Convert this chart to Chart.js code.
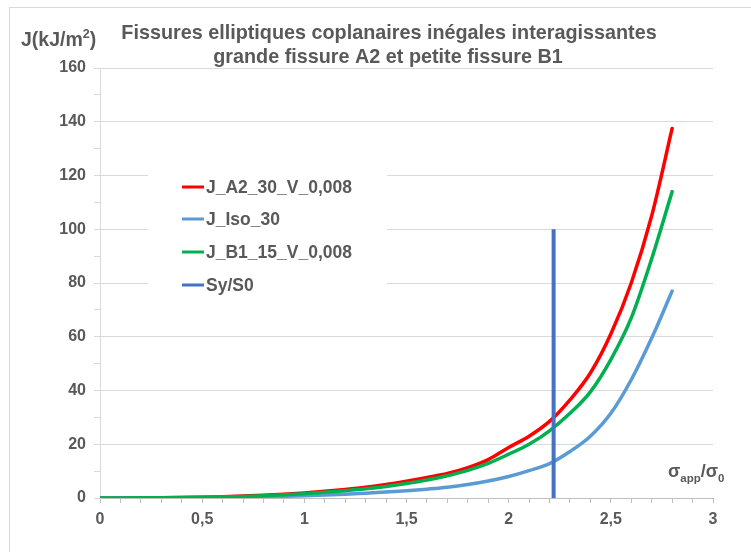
<!DOCTYPE html>
<html>
<head>
<meta charset="utf-8">
<script src="https://cdn.jsdelivr.net/npm/chart.js@4/dist/chart.umd.min.js"></script>
<style>
html,body{margin:0;padding:0;background:#fff;}
#wrap{width:751px;height:552px;position:relative;}
</style>
</head>
<body>
<div id="wrap"><canvas id="c" width="751" height="552"></canvas></div>
<script>
const xValues = [0,0.1,0.2,0.3,0.4,0.5,0.6,0.7,0.8,0.9,1.0,1.1,1.2,1.3,1.4,1.5,1.6,1.7,1.8,1.9,2.0,2.1,2.2,2.3,2.4,2.5,2.6,2.7,2.8];
const jA2 = [0,0.02,0.06,0.12,0.2,0.32,0.48,0.7,1.0,1.4,1.9,2.5,3.2,4.0,5.0,6.2,7.6,9.1,11.3,14.3,18.8,23,28.5,36.5,46.5,61,80,105,137.5];
const jIso = [0,0.01,0.03,0.06,0.1,0.16,0.24,0.34,0.47,0.63,0.85,1.1,1.4,1.8,2.2,2.7,3.3,4.0,5.0,6.3,8.0,10.2,12.8,17.3,23,31.5,44,59.5,77];
const jB1 = [0,0.02,0.05,0.1,0.17,0.27,0.4,0.6,0.85,1.2,1.6,2.1,2.7,3.4,4.3,5.4,6.7,8.3,10.3,12.9,16.3,20,25,31.5,39.5,51.5,67,89,114];
const syX = [2.22,2.22];
const syY = [0,100];
const seriesNames = ['J_A2_30_V_0,008','J_Iso_30','J_B1_15_V_0,008','Sy/S0'];
const seriesColors = ['#FF0000','#5B9BD5','#00B050','#4472C4'];
const titleLines = ['Fissures elliptiques coplanaires inégales interagissantes','grande fissure A2 et petite fissure B1'];

const FONT = '"Liberation Sans", Arial, sans-serif';
const TXT = '#595959';

const pts = (xs, ys) => xs.map((x,i)=>({x:x,y:ys[i]}));

const decor = {
  id:'decor',
  beforeDraw(chart){
    const ctx = chart.ctx;
    ctx.save();
    ctx.fillStyle='#fff';
    ctx.fillRect(0,0,chart.width,chart.height);
    ctx.strokeStyle='#d9d9d9';
    ctx.lineWidth=1;
    ctx.strokeRect(9.5,7.5,800,600);
    ctx.restore();
  },
  beforeDatasetsDraw(chart){
    const ctx = chart.ctx;
    ctx.save();
    ctx.fillStyle='#fff';
    ctx.fillRect(148,163,239,142);
    const rows=[187,219,252,285];
    ctx.font='bold 17.5px '+FONT;
    ctx.textBaseline='middle';
    ctx.textAlign='left';
    rows.forEach((y,i)=>{
      ctx.strokeStyle=seriesColors[i];
      ctx.lineWidth=3;
      ctx.beginPath();ctx.moveTo(182,y);ctx.lineTo(204,y);ctx.stroke();
      ctx.fillStyle=TXT;
      ctx.fillText(seriesNames[i],206,y+1);
    });
    ctx.restore();
  },
  afterDraw(chart){
    const ctx = chart.ctx;
    ctx.save();
    ctx.fillStyle=TXT;
    ctx.textBaseline='alphabetic';
    ctx.textAlign='center';
    ctx.font='bold 19.8px '+FONT;
    ctx.fillText(titleLines[0],389,39);
    ctx.fillText(titleLines[1],388,63);
    ctx.textAlign='left';
    ctx.font='bold 19.5px '+FONT;
    let x=21;
    const p1='J(kJ/m';
    ctx.fillText(p1,x,46); x+=ctx.measureText(p1).width;
    ctx.font='bold 12.5px '+FONT;
    ctx.fillText('2',x,38); x+=ctx.measureText('2').width;
    ctx.font='bold 19.5px '+FONT;
    ctx.fillText(')',x,46);
    x=668;
    ctx.font='bold 18px '+FONT;
    ctx.fillText('σ',x,477); x+=ctx.measureText('σ').width;
    ctx.font='bold 11.5px '+FONT;
    ctx.fillText('app',x,482); x+=ctx.measureText('app').width;
    ctx.font='bold 18px '+FONT;
    ctx.fillText('/σ',x,477); x+=ctx.measureText('/σ').width;
    ctx.font='bold 11.5px '+FONT;
    ctx.fillText('0',x,482);
    ctx.restore();
  }
};

const fmt = v => String(Math.round(v*10)/10).replace('.',',');

new Chart(document.getElementById('c'),{
  type:'line',
  data:{
    datasets:[
      {label:seriesNames[0],data:pts(xValues,jA2),borderColor:seriesColors[0],borderWidth:3.5,order:3,cubicInterpolationMode:'monotone'},
      {label:seriesNames[1],data:pts(xValues,jIso),borderColor:seriesColors[1],borderWidth:3.5,order:2,cubicInterpolationMode:'monotone'},
      {label:seriesNames[2],data:pts(xValues,jB1),borderColor:seriesColors[2],borderWidth:3.5,order:1,cubicInterpolationMode:'monotone'},
      {label:seriesNames[3],data:pts(syX,syY),borderColor:seriesColors[3],borderWidth:4,order:0,borderCapStyle:'butt'}
    ]
  },
  options:{
    responsive:false,
    animation:false,
    devicePixelRatio:1,
    elements:{point:{radius:0,hoverRadius:0},line:{tension:0,fill:false,borderCapStyle:'round',borderJoinStyle:'round'}},
    layout:{padding:{top:68,right:38,left:0,bottom:0}},
    plugins:{legend:{display:false},tooltip:{enabled:false},title:{display:false}},
    scales:{
      x:{
        type:'linear',min:0,max:3,
        afterFit(s){s.height=54;},
        border:{color:'#bfbfbf',width:1},
        grid:{drawOnChartArea:false,drawTicks:true,tickLength:5,tickColor:'#bfbfbf'},
        ticks:{stepSize:0.1,autoSkip:false,maxRotation:0,padding:7,color:TXT,font:{family:FONT,size:16,weight:'bold'},
          callback(v){const d=v*2;return Math.abs(d-Math.round(d))<1e-6?fmt(v):'';}}
      },
      y:{
        type:'linear',min:0,max:160,
        afterFit(s){s.width=100;},
        border:{color:'#d9d9d9',width:1},
        grid:{
          color:(c)=> (c.tick && c.tick.value%20===0)?'#d9d9d9':'rgba(0,0,0,0)',
          lineWidth:1,drawTicks:true,tickLength:6,tickColor:'#d9d9d9'
        },
        ticks:{stepSize:10,autoSkip:false,padding:8,color:TXT,font:{family:FONT,size:16,weight:'bold'},
          callback(v){return v%20===0?String(v):'';}}
      }
    }
  },
  plugins:[decor]
});
</script>
</body>
</html>
